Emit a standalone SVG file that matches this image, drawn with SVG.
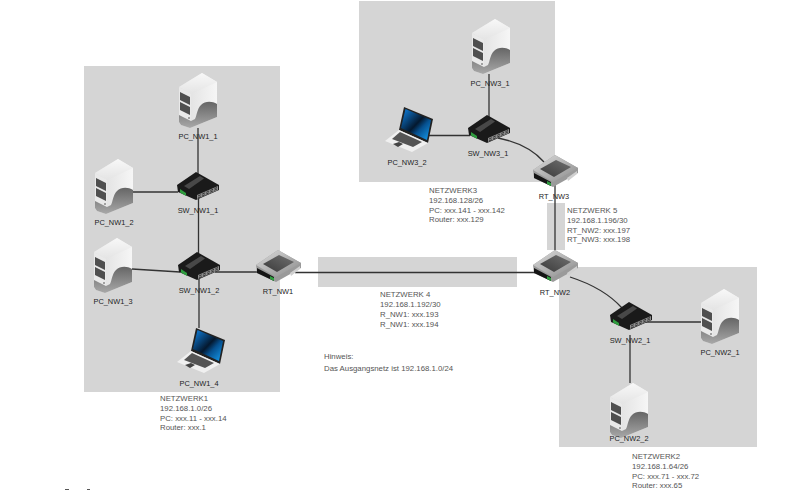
<svg xmlns="http://www.w3.org/2000/svg" width="800" height="490" viewBox="0 0 800 490">
<style>
.area{fill:#d5d5d5}
.link{fill:none;stroke:#333;stroke-width:1.3}
text{font-family:"Liberation Sans",Arial,sans-serif;font-size:7.4px;fill:#222}
.lbl{text-anchor:middle}
.info{fill:#555;font-size:7.8px}
</style>
<defs>
<linearGradient id="srvTop" x1="0" y1="0" x2="0" y2="1"><stop offset="0" stop-color="#f8f8f8"/><stop offset="1" stop-color="#e4e4e4"/></linearGradient>
<linearGradient id="srvRight" x1="0" y1="0" x2="1" y2="0"><stop offset="0" stop-color="#dcdcdc"/><stop offset="1" stop-color="#f6f6f6"/></linearGradient>
<linearGradient id="srvBase" x1="0" y1="0" x2="0" y2="1"><stop offset="0" stop-color="#666"/><stop offset="1" stop-color="#a8a8a8"/></linearGradient>
<linearGradient id="screen" x1="0" y1="0" x2="1" y2="1"><stop offset="0" stop-color="#0f86ea"/><stop offset=".5" stop-color="#04182e"/><stop offset=".65" stop-color="#06508f"/><stop offset="1" stop-color="#17a0f2"/></linearGradient>
<linearGradient id="rtTop" x1="0" y1="0" x2="1" y2="1"><stop offset="0" stop-color="#dcdcdc"/><stop offset="1" stop-color="#8a8a8a"/></linearGradient>
<linearGradient id="rtIn" x1="0" y1="1" x2="1" y2="0"><stop offset="0" stop-color="#3a3a3a"/><stop offset="1" stop-color="#707070"/></linearGradient>
<symbol id="server" width="38" height="55" viewBox="0 0 38 55" overflow="visible">
<path d="M0 14L23 0L38 9V44L11 55L2 52L0 49Z" fill="url(#srvRight)"/>
<path d="M0 14L23 0L38 9L12 21Z" fill="url(#srvTop)"/>
<path d="M0 14L12 21V55L2 52L0 49Z" fill="#e9e9e9"/>
<path d="M0 42L12 48L16 46C18 42 18 36 22 32C26 28 33 28 38 31V44L11 55L2 52L0 49Z" fill="url(#srvBase)"/>
<path d="M1 19L11 24V32L1 27Z M1 29L11 34V42L1 37Z" fill="#4f4f4f"/>
<circle cx="10" cy="45" r=".7" fill="#222"/>
</symbol>
<symbol id="switch" width="42" height="28" viewBox="0 0 42 28" overflow="visible">
<path d="M0 13L19 0L42 13V18L19 28L1 20Z" fill="#1a1a1a"/>
<path d="M7 14L23 4L27 6.500L12 17Z" fill="#484848"/>
<path d="M20 23L41 14V18L20 27Z" fill="#8c8c8c"/>
<path d="M21 24L40 15.500M21 26L40 17" stroke="#222" stroke-width=".8" stroke-dasharray="3 1.500"/>
<path d="M3 17L9 21V24L3 20.500Z" fill="#2f9d3f"/>
</symbol>
<symbol id="router" width="45" height="32" viewBox="0 0 45 32" overflow="visible">
<path d="M0 15L22 0L45 13V18L20 32L1 23Z" fill="#9a9a9a"/>
<path d="M0 15L22 0L45 13L20 27Z" fill="url(#rtTop)"/>
<path d="M7 14L23 5L38 12L21 22Z" fill="url(#rtIn)"/>
<path d="M1 18L18 27V31L1 23Z" fill="#151515"/>
<path d="M14 26L18 28V31L14 29Z" fill="#2f9d3f"/>
<path d="M34 23L44 16V19L35 26Z" fill="#d0d0d0"/>
</symbol>
<symbol id="laptop" width="49" height="45" viewBox="0 0 49 45" overflow="visible">
<path d="M20 0L49 12L44 36L15 23Z" fill="#222"/>
<path d="M21.500 2L47 13L43 33L17 21Z" fill="url(#screen)"/>
<path d="M1 34L15 23L44 36L28 45Z" fill="#f0f0f0"/>
<path d="M8 32L16 25L38 35L29 40Z" fill="#555"/>
<path d="M9 37L15 35L19 37L14 40Z" fill="#444"/>
</symbol>
</defs>
<g id="areas">
<rect class="area" x="84" y="66" width="196" height="326"/>
<rect class="area" x="359" y="1" width="196" height="181"/>
<rect class="area" x="318" y="257" width="199" height="30"/>
<rect class="area" x="547" y="203" width="18" height="47"/>
<rect class="area" x="559" y="267" width="198" height="180"/>
</g>
<g id="connectors">
<path class="link" d="M198 128V175"/>
<path class="link" d="M133 192H178"/>
<path class="link" d="M198.500 195V255"/>
<path class="link" d="M132 269L180 272"/>
<path class="link" d="M199 275V328"/>
<path class="link" d="M215 272H258"/>
<path class="link" d="M295 272.500H535"/>
<path class="link" d="M555 175V255"/>
<path class="link" d="M498 138Q528 144 544 162"/>
<path class="link" d="M489 74V118"/>
<path class="link" d="M428 135.500H470"/>
<path class="link" d="M570 277Q604 288 622 308"/>
<path class="link" d="M640 322H701"/>
<path class="link" d="M630 335V383"/>
</g>
<g id="PC_NW1_1"><use href="#server" x="179" y="73"/><text class="lbl" x="198" y="139">PC_NW1_1</text></g>
<g id="PC_NW1_2"><use href="#server" x="95" y="159"/><text class="lbl" x="114" y="225">PC_NW1_2</text></g>
<g id="PC_NW1_3"><use href="#server" x="94" y="238"/><text class="lbl" x="113" y="304">PC_NW1_3</text></g>
<g id="PC_NW1_4"><use href="#laptop" x="176" y="328"/><text class="lbl" x="199" y="386">PC_NW1_4</text></g>
<g id="SW_NW1_1"><use href="#switch" x="177" y="172"/><text class="lbl" x="198" y="213">SW_NW1_1</text></g>
<g id="SW_NW1_2"><use href="#switch" x="178" y="252"/><text class="lbl" x="199" y="293">SW_NW1_2</text></g>
<g id="RT_NW1"><use href="#router" x="256" y="250"/><text class="lbl" x="278" y="294">RT_NW1</text></g>
<g id="PC_NW3_1"><use href="#server" x="472" y="19"/><text class="lbl" x="490" y="86">PC_NW3_1</text></g>
<g id="PC_NW3_2"><use href="#laptop" x="384" y="107"/><text class="lbl" x="407" y="165">PC_NW3_2</text></g>
<g id="SW_NW3_1"><use href="#switch" x="468" y="115"/><text class="lbl" x="488" y="156">SW_NW3_1</text></g>
<g id="RT_NW3"><use href="#router" x="533" y="155"/><text class="lbl" x="554" y="199">RT_NW3</text></g>
<g id="RT_NW2"><use href="#router" x="533" y="250"/><text class="lbl" x="555" y="295">RT_NW2</text></g>
<g id="SW_NW2_1"><use href="#switch" x="610" y="302"/><text class="lbl" x="630" y="343">SW_NW2_1</text></g>
<g id="PC_NW2_1"><use href="#server" x="701" y="289"/><text class="lbl" x="720" y="355">PC_NW2_1</text></g>
<g id="PC_NW2_2"><use href="#server" x="610" y="383"/><text class="lbl" x="629" y="441">PC_NW2_2</text></g>
<g id="notes">
<text class="info" x="160" y="401">NETZWERK1</text><text class="info" x="160" y="411">192.168.1.0/26</text><text class="info" x="160" y="421">PC: xxx.11 - xxx.14</text><text class="info" x="160" y="430">Router: xxx.1</text>
<text class="info" x="380" y="297">NETZWERK 4</text><text class="info" x="380" y="307">192.168.1.192/30</text><text class="info" x="380" y="317">R_NW1: xxx.193</text><text class="info" x="380" y="327">R_NW1: xxx.194</text>
<text class="info" x="324" y="359">Hinweis:</text><text class="info" x="324" y="371">Das Ausgangsnetz ist 192.168.1.0/24</text>
<text class="info" x="429" y="193">NETZWERK3</text><text class="info" x="429" y="203">192.168.128/26</text><text class="info" x="429" y="213">PC: xxx.141 - xxx.142</text><text class="info" x="429" y="222">Router: xxx.129</text>
<text class="info" x="567" y="213">NETZWERK 5</text><text class="info" x="567" y="223">192.168.1.196/30</text><text class="info" x="567" y="233">RT_NW2: xxx.197</text><text class="info" x="567" y="242">RT_NW3: xxx.198</text>
<text class="info" x="632" y="459">NETZWERK2</text><text class="info" x="632" y="469">192.168.1.64/26</text><text class="info" x="632" y="479">PC: xxx.71 - xxx.72</text><text class="info" x="632" y="488">Router: xxx.65</text>
</g>
<g id="marks"><rect x="65" y="489" width="4" height="1" fill="#555"/><rect x="87" y="489" width="3" height="1" fill="#555"/></g>
</svg>
